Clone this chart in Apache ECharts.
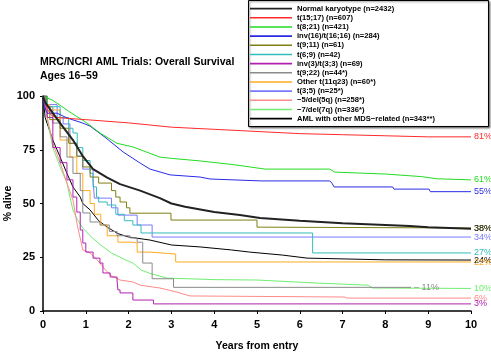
<!DOCTYPE html>
<html>
<head>
<meta charset="utf-8">
<script src="https://cdn.jsdelivr.net/npm/echarts@6/dist/echarts.min.js"></script>
<style>
  html, body { margin: 0; padding: 0; background: #fff; }
  #chart { width: 491px; height: 353px; }
</style>
</head>
<body>
<div id="chart"></div>
<script>
// survival curves, [years, % alive]
var normalKaryotype = [[0,100],[0.05,97],[0.23,92],[0.4,87.4],[0.7,79.5],[0.93,72],[1.17,66],[1.5,62],[1.8,59],[2.27,56],[2.73,52.5],[3.0,50],[3.32,48.5],[4.0,46],[4.6,44.6],[5.07,43.3],[6,42],[7,40.8],[8,40],[8.57,39.5],[9,39],[10,38.3]];
var t1517 = [[0,100],[0.05,97],[0.1,94],[0.2,91],[0.3,90],[1,89],[2,87.5],[3,85.5],[4,84.5],[5,83.5],[6,82.5],[7,82],[8,81.5],[9,81],[10,81]];
var t821 = [[0,100],[0.05,99.5],[0.23,98],[0.63,92.5],[1.03,87.4],[1.33,82.8],[1.73,78],[2.1,76.3],[2.73,71.6],[3.0,71],[3.67,69.8],[4.48,68],[5.19,66],[6.7,66],[6.82,64.6],[8,63.7],[8.85,62.5],[9.2,61.5],[10,61]];
var inv16 = [[0,100],[0.03,95],[0.1,92],[0.33,92],[0.56,89.8],[0.93,87.4],[1.1,86],[1.47,80.5],[1.87,74],[2.27,68.8],[2.5,66],[2.97,63.3],[3.67,62.3],[3.9,61.4],[5.1,60.5],[6.7,60.5],[6.75,59.5],[6.8,57.7],[8.17,57.7],[8.2,56.7],[9.02,56.7],[9.05,55.5],[10,55.5]];
var t911 = [[0,100],[0.08,95],[0.16,89],[0.4,85],[0.6,78],[0.79,72],[0.93,67],[1.1,62.3],[1.3,59.5],[1.6,56],[1.7,53],[1.8,50.7],[1.95,48],[2.03,45.5],[2.99,42.3],[5.0,39],[5.1,38.6],[10,38.5]];
var t69 = [[0,100],[0.1,95],[0.4,90],[0.6,85],[0.7,82.8],[0.8,76],[0.93,70],[1.1,64],[1.17,57.7],[1.25,53],[1.3,50.7],[1.5,49.3],[1.7,45],[1.9,42],[2.1,40],[2.29,36.3],[6.3,27],[10,27]];
var inv3 = [[0,100],[0.05,94],[0.1,90],[0.23,76],[0.4,69],[0.56,61],[0.7,53],[0.79,46],[0.87,37.7],[0.93,31.6],[1.0,27.4],[1.17,24.6],[1.33,22.3],[1.4,17.7],[1.57,15.8],[1.73,14.4],[1.75,9.8],[1.8,8.4],[2.1,5.1],[2.58,3.3],[10,3.3]];
var t922 = [[0,100],[0.1,95],[0.23,87.4],[0.4,81],[0.56,71.6],[0.7,64],[0.87,56],[0.93,45.6],[1.1,41.4],[1.33,40],[1.55,37],[1.73,35],[2.03,34],[2.2,32],[2.33,22.3],[2.55,15],[3.05,11],[8.6,11]];
var other11q23 = [[0,100],[0.05,96],[0.16,93.5],[0.4,79.5],[0.63,71.6],[0.79,64],[0.93,56],[1.1,50],[1.2,45],[1.35,40],[1.5,35],[1.75,32],[2.1,31.6],[2.2,27.4],[2.5,26.5],[3.1,22.8],[10,22.5]];
var t35 = [[0,100],[0.1,96],[0.33,90],[0.47,87],[0.63,78],[0.79,72],[0.93,66],[1.17,61],[1.2,52.5],[1.6,48],[1.75,44.6],[2.2,40],[2.55,34.4],[10,34.4]];
var del5q = [[0,100],[0.05,95],[0.1,90],[0.23,78],[0.4,69],[0.56,59.5],[0.7,51.6],[0.8,40],[0.93,28.4],[1.1,27],[1.27,23.7],[1.4,20.5],[1.57,16.7],[1.8,14.4],[2.1,13.5],[2.27,12],[2.73,10.7],[3.13,8.8],[3.43,7],[7.05,6.5],[7.1,6],[10,6]];
var del7q = [[0,100],[0.05,95],[0.1,89],[0.23,76],[0.4,67],[0.56,59.5],[0.63,53],[0.7,47],[0.79,43],[0.93,38.6],[1.1,35],[1.33,31],[1.6,27],[1.9,24],[2.1,22.3],[2.3,19],[2.5,17.5],[2.9,15.3],[4,14.6],[5,14.4],[6.4,13],[7.6,12],[7.7,10.7],[10,10.5]];
var mdsRelated = [[0,100],[0.05,90],[0.23,79.5],[0.4,71.6],[0.56,64],[0.7,57.7],[0.87,53],[0.93,50],[1.1,47],[1.3,42],[1.5,39],[1.75,36],[2.0,34.4],[2.5,33],[3.0,30.7],[3.67,29.8],[4.4,28.4],[4.83,27.4],[5.6,26],[6.17,24.6],[8.0,23.8],[10,23.7]];

var groupNames = ['Normal karyotype (n=2432)', 't(15;17) (n=607)', 't(8;21) (n=421)', 'inv(16)/t(16;16) (n=284)',
  't(9;11) (n=61)', 't(6;9) (n=42)', 'inv(3)/t(3;3) (n=69)', 't(9;22) (n=44*)', 'Other t(11q23) (n=60*)',
  't(3;5) (n=25*)', '\u22125/del(5q) (n=258*)', '\u22127/del(7q) (n=336*)', 'AML with other MDS\u2212related (n=343**)'];
var groupData = [normalKaryotype, t1517, t821, inv16, t911, t69, inv3, t922, other11q23, t35, del5q, del7q, mdsRelated];
var endText = ['38%', '81%', '61%', '55%', '38%', '27%', '3%', '\u2013 11%', '22%', '34%', '6%', '10%', '24%'];
var colors = ['#222222', '#ff2a2a', '#22dd22', '#2a2ae6', '#7f7f10', '#33bcbc', '#b020b0', '#8a8a8a', '#ffaa22', '#7a7aff', '#ff8a8a', '#70ee70', '#000000'];
var widths = [2, 1, 1, 1, 1, 1, 1, 1, 1, 1, 1, 1, 1];
// small groups show clear steps, large groups look like smooth curves
var stepped = [false, false, false, false, true, true, true, true, true, true, false, false, false];

var xTicks = [0, 1, 2, 3, 4, 5, 6, 7, 8, 9, 10];
var yTicks = [0, 25, 50, 75, 100];

var chart = echarts.init(document.getElementById('chart'), null, { renderer: 'canvas' });
var FONT = 'Liberation Sans, Arial, sans-serif';

var series = groupData.map(function (d, i) {
  return {
    name: groupNames[i],
    type: 'line',
    step: stepped[i] ? 'end' : false,
    data: d,
    symbol: 'none',
    z: 20 - i,
    lineStyle: { color: colors[i], width: widths[i] },
    itemStyle: { color: colors[i] },
    endLabel: {
      show: true,
      formatter: endText[i],
      color: colors[i],
      fontSize: 9,
      fontFamily: FONT,
      distance: 3
    }
  };
});

chart.setOption({
  animation: false,
  backgroundColor: '#fff',
  title: {
    text: 'MRC/NCRI AML Trials: Overall Survival\nAges 16\u201359',
    left: 40,
    top: 55,
    padding: 0,
    textStyle: { fontSize: 10.5, fontWeight: 'bold', fontFamily: FONT, color: '#000', lineHeight: 14 }
  },
  graphic: [{
    type: 'rect',
    shape: { x: 248.5, y: 0.5, width: 240, height: 126 },
    style: { fill: '#fff', stroke: '#000', lineWidth: 1, shadowBlur: 2, shadowOffsetX: 1, shadowOffsetY: 1, shadowColor: 'rgba(0,0,0,0.5)' },
    z: 0
  }],
  legend: {
    orient: 'vertical',
    left: 245,
    top: 0,
    padding: [4, 5],
    itemGap: 0,
    itemWidth: 42,
    itemHeight: 1.6,
    icon: 'rect',
    z: 10,
    data: groupNames,
    textStyle: { fontSize: 7.6, fontWeight: 'bold', fontFamily: FONT, color: '#000', lineHeight: 9.17, padding: [0, 0, 0, 0] }
  },
  grid: { left: 43, right: 20, top: 96, bottom: 42, outerBoundsMode: 'none', containLabel: false },
  xAxis: {
    type: 'value',
    min: xTicks[0],
    max: xTicks[xTicks.length - 1],
    interval: 1,
    name: 'Years from entry',
    nameLocation: 'middle',
    nameGap: 30,
    nameMoveOverlap: false,
    nameTextStyle: { fontSize: 10.5, fontWeight: 'bold', fontFamily: FONT, color: '#000' },
    axisLine: { lineStyle: { color: '#000', width: 1.5 } },
    axisTick: { length: 3, lineStyle: { color: '#000' } },
    axisLabel: { fontSize: 11, fontWeight: 'bold', fontFamily: FONT, color: '#000', margin: 8 },
    splitLine: { show: false }
  },
  yAxis: {
    type: 'value',
    min: yTicks[0],
    max: yTicks[yTicks.length - 1],
    interval: 25,
    name: '% alive',
    nameLocation: 'middle',
    nameGap: 29,
    nameMoveOverlap: false,
    nameTextStyle: { fontSize: 10.5, fontWeight: 'bold', fontFamily: FONT, color: '#000' },
    axisLine: { show: true, lineStyle: { color: '#000', width: 1.5 } },
    axisTick: { show: true, length: 3, lineStyle: { color: '#000' } },
    axisLabel: { fontSize: 11, fontWeight: 'bold', fontFamily: FONT, color: '#000', margin: 8 },
    splitLine: { show: false }
  },
  series: series
});
</script>
</body>
</html>
